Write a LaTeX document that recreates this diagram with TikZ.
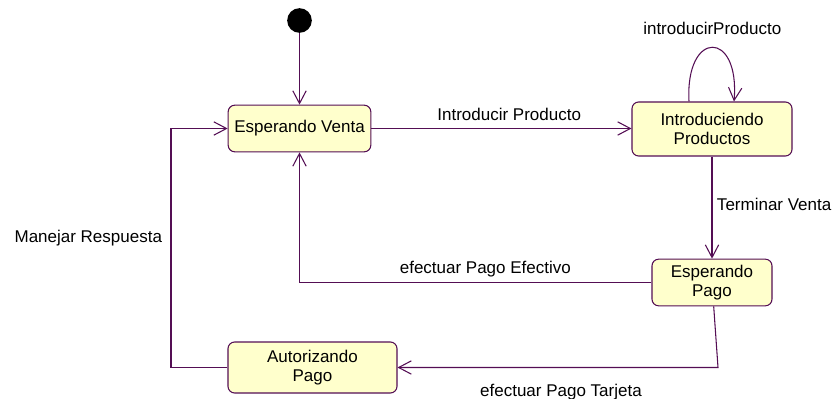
\documentclass[tikz,border=0pt]{standalone}
\usepackage{fontspec}
\setmainfont{Liberation Sans}
\usetikzlibrary{positioning, arrows.meta}

\definecolor{umlline}{RGB}{84,14,84}
\definecolor{umlfill}{RGB}{255,255,204}

\begin{document}
\begin{tikzpicture}[x=0.75pt, y=-0.75pt, >={Straight Barb[length=9.5pt,width=10pt]}, line width=0.8pt,
                    font=\fontsize{12.75}{14.25}\selectfont,
                    dot/.style={circle, fill=black, inner sep=0pt, minimum size=18.5pt},
                    trans/.style={->, draw=umlline},
                    block/.style={rectangle, draw=umlline, fill=umlfill, rounded corners=5pt, align=center, inner sep=0pt}]

  \useasboundingbox (0,0) rectangle (838,399);

  \node[dot]                                              (dot) at (299.5,20.5)  {};
  \node[block, minimum width=107pt, minimum height=35pt]  (A)   at (299.5,128.5) {Esperando Venta};
  \node[block, minimum width=120pt, minimum height=40.5pt] (B)  at (712,129)     {Introduciendo\\Productos};
  \node[block, minimum width=90pt, minimum height=35pt]   (C)   at (712,282.5)   {Esperando\\Pago};
  \node[block, minimum width=126.75pt, minimum height=38.25pt] (D) at (312.5,367.5) {Autorizando\\Pago};

  \coordinate (c1) at (718,367.5);
  \coordinate (d1) at (171,367.5);

  \draw[trans] (dot) -- (A);
  \draw[trans] (A) -- node[above=2pt, pos=0.53] {Introducir Producto} (A -| B.west);
  \draw[trans] ([shift={(-23,0)}]B.north) .. controls +(-4,-72) and +(6,-72) ..
               node[above=5.5pt] {introducirProducto} ([shift={(22,0)}]B.north);
  \draw[trans] (B) -- node[right, pos=0.47] {Terminar Venta} (C);
  \draw[trans] (C) -| node[above, pos=0.236] {efectuar Pago Efectivo} (A);
  \draw[trans] (C) -- (c1) -- node[below=9pt, pos=0.49] {efectuar Pago Tarjeta} (D);
  \draw[trans] (D) -- (d1) |- node[left=3pt, pos=0.27] {Manejar Respuesta} (A);

\end{tikzpicture}
\end{document}
